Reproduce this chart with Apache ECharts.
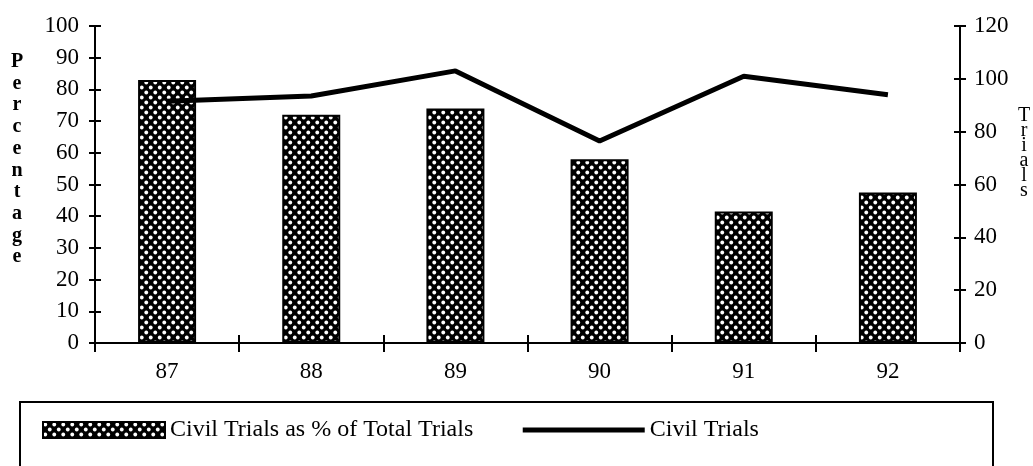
<!DOCTYPE html>
<html>
<head>
<meta charset="utf-8">
<script src="https://cdn.jsdelivr.net/npm/echarts@6/dist/echarts.min.js"></script>
<style>
  html, body { margin: 0; padding: 0; background: #fff; }
  #chart { width: 1033px; height: 466px; }
</style>
</head>
<body>
<div id="chart"></div>
<script>
// values
const years = ['87', '88', '89', '90', '91', '92']
const civilPct = [83, 72, 74, 58, 41.5, 47.5]       // bars, left axis (%)
const civilTrials = [91.5, 93.5, 103, 76.5, 101, 94] // line, right axis
const leftTitle = 'Percentage'
const rightTitle = 'Trials'

const serif = '"Liberation Serif", "DejaVu Serif", serif'

// black fill with staggered white dots, like the halftone in the scan
const dotPattern = () => {
  const c = document.createElement('canvas')
  c.width = 9
  c.height = 10
  const ctx = c.getContext('2d')
  ctx.fillStyle = '#000'
  ctx.fillRect(0, 0, 9, 10)
  ctx.fillStyle = '#fff'
  ;[[2.25, 2.5], [6.75, 7.5]].forEach(([x, y]) => {
    ctx.beginPath()
    ctx.arc(x, y, 1.9, 0, Math.PI * 2)
    ctx.fill()
  })
  return c
}

const axisLine = { show: true, lineStyle: { color: '#000', width: 2 } }
const tickOut = { show: true, length: 6, lineStyle: { color: '#000', width: 2 } }
const tickIn = { show: true, inside: true, length: 6, lineStyle: { color: '#000', width: 2 } }
const labelStyle = { color: '#000', fontSize: 23, fontFamily: serif }

const chart = echarts.init(document.getElementById('chart'))

chart.setOption({
  animation: false,
  backgroundColor: '#fff',
  grid: { left: 95, right: 73, top: 26, bottom: 123 },
  legend: {
    left: 37,
    top: 413,
    itemWidth: 122,
    itemHeight: 16,
    itemGap: 47,
    textStyle: { color: '#000', fontSize: 24, fontFamily: serif },
    data: [
      { name: 'Civil Trials as % of Total Trials', icon: 'rect' },
      { name: 'Civil Trials', itemStyle: { opacity: 0 }, lineStyle: { width: 5, color: '#000' } }
    ]
  },
  xAxis: [
    {
      type: 'category',
      data: years,
      boundaryGap: true,
      axisLine,
      axisTick: { ...tickOut, length: 9 },
      axisLabel: { ...labelStyle, margin: 17 },
      splitLine: { show: false }
    },
    {
      type: 'category',
      data: years,
      position: 'bottom',
      boundaryGap: true,
      axisLine: { show: false },
      axisTick: { ...tickIn, length: 8 },
      axisLabel: { show: false },
      splitLine: { show: false }
    }
  ],
  yAxis: [
    {
      type: 'value',
      min: 0,
      max: 100,
      interval: 10,
      position: 'left',
      axisLine,
      axisTick: tickOut,
      axisLabel: { ...labelStyle, margin: 16 },
      splitLine: { show: false }
    },
    {
      type: 'value',
      min: 0,
      max: 120,
      interval: 20,
      position: 'right',
      axisLine,
      axisTick: tickOut,
      axisLabel: { ...labelStyle, margin: 14 },
      splitLine: { show: false }
    },
    {
      type: 'value',
      min: 0,
      max: 100,
      interval: 10,
      position: 'left',
      axisLine: { show: false },
      axisTick: tickIn,
      axisLabel: { show: false },
      splitLine: { show: false }
    },
    {
      type: 'value',
      min: 0,
      max: 120,
      interval: 20,
      position: 'right',
      axisLine: { show: false },
      axisTick: tickIn,
      axisLabel: { show: false },
      splitLine: { show: false }
    }
  ],
  graphic: [
    {
      type: 'rect',
      shape: { x: 20, y: 402, width: 973, height: 100 },
      style: { fill: 'none', stroke: '#000', lineWidth: 2 },
      silent: true
    },
    {
      type: 'text',
      x: 17,
      y: 51,
      style: {
        text: leftTitle.split('').join('\n'),
        font: 'bold 20px ' + serif,
        lineHeight: 21.7,
        fill: '#000',
        align: 'center'
      }
    },
    {
      type: 'text',
      x: 1024,
      y: 108,
      style: {
        text: rightTitle.split('').join('\n'),
        font: '20px ' + serif,
        lineHeight: 15,
        fill: '#000',
        align: 'center'
      }
    }
  ],
  series: [
    {
      name: 'Civil Trials as % of Total Trials',
      type: 'bar',
      yAxisIndex: 0,
      data: civilPct,
      barWidth: 58,
      itemStyle: {
        color: { image: dotPattern(), repeat: 'repeat' },
        borderColor: '#000',
        borderWidth: 2
      }
    },
    {
      name: 'Civil Trials',
      type: 'line',
      yAxisIndex: 1,
      data: civilTrials,
      symbol: 'none',
      lineStyle: { color: '#000', width: 5 },
      itemStyle: { color: '#000' },
      z: 3
    }
  ]
})
</script>
</body>
</html>
